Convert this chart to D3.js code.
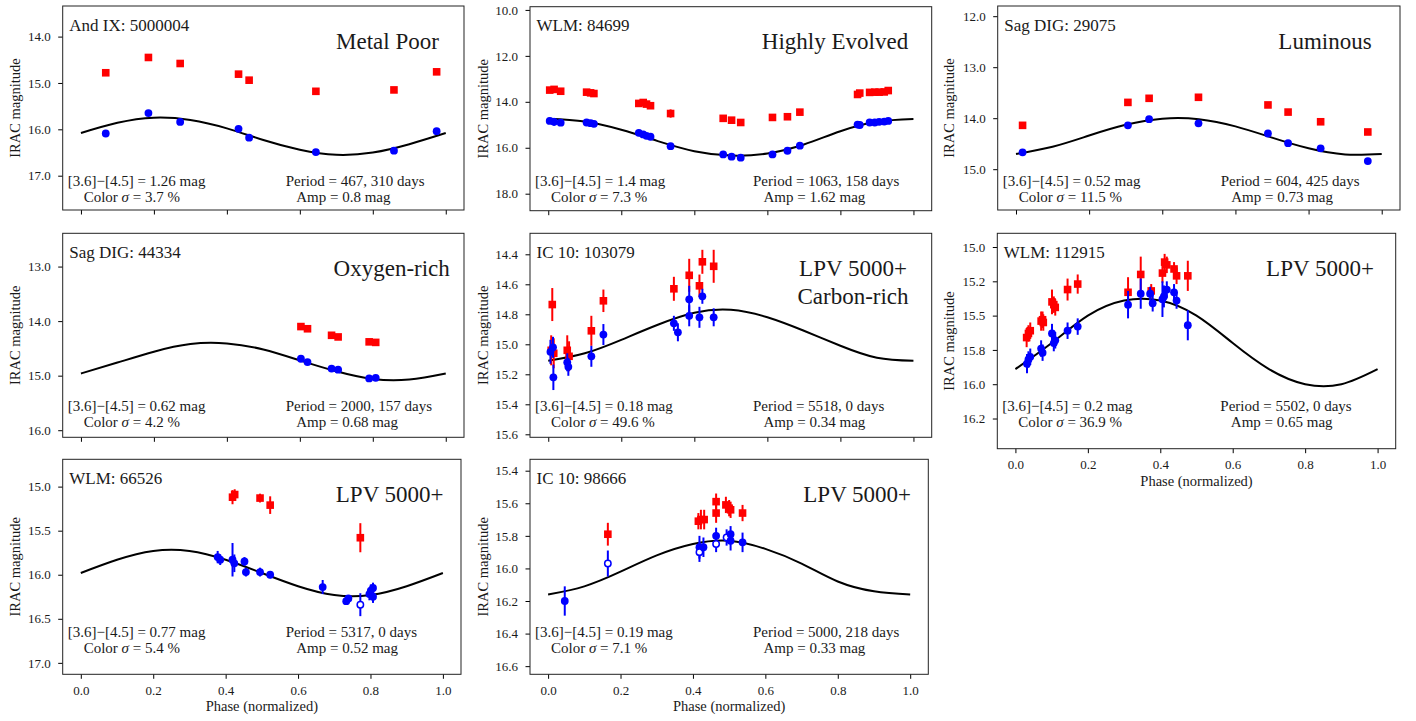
<!DOCTYPE html>
<html>
<head>
<meta charset="utf-8">
<script src="https://cdnjs.cloudflare.com/ajax/libs/d3/7.8.5/d3.min.js"></script>
<style>
    body { margin: 0; background: #fff; }
    svg text { font-family: 'Liberation Serif', 'DejaVu Serif', serif; fill: #1a1a1a; }
</style>
</head>
<body>
<svg id="figura"></svg>
<script>

var fasesCurva = [0, 0.1, 0.2, 0.3, 0.4, 0.5, 0.6, 0.7, 0.8, 0.9, 1.0];

//Eixo X comum
var ticksX = [0, 0.2, 0.4, 0.6, 0.8, 1.0];
var rotulosX = ['0.0', '0.2', '0.4', '0.6', '0.8', '1.0'];

//Textos de cada painel
var nomes = ['And IX: 5000004', 'WLM: 84699', 'Sag DIG: 29075', 'Sag DIG: 44334',
             'IC 10: 103079', 'WLM: 112915', 'WLM: 66526', 'IC 10: 98666'];
var classes = [['Metal Poor'], ['Highly Evolved'], ['Luminous'], ['Oxygen-rich'],
               ['LPV 5000+', 'Carbon-rich'], ['LPV 5000+'], ['LPV 5000+'], ['LPV 5000+']];
var cores = ['1.26', '1.4', '0.52', '0.62', '0.18', '0.2', '0.77', '0.19'];
var sigmas = ['3.7', '7.3', '11.5', '4.2', '49.6', '36.9', '5.4', '7.1'];
var periodos = ['467, 310', '1063, 158', '604, 425', '2000, 157', '5518, 0', '5502, 0', '5317, 0', '5000, 218'];
var amplitudes = ['0.8', '1.62', '0.73', '0.68', '0.34', '0.65', '0.52', '0.33'];

//Ticks do eixo Y de cada painel
var ticksY1 = [14, 15, 16, 17];
var ticksY2 = [10, 12, 14, 16, 18];
var ticksY3 = [12, 13, 14, 15];
var ticksY4 = [13, 14, 15, 16];
var ticksY5 = [14.4, 14.6, 14.8, 15.0, 15.2, 15.4, 15.6];
var ticksY6 = [15.0, 15.25, 15.5, 15.75, 16.0, 16.25];
var rotulosY6 = ['15.0', '15.2', '15.5', '15.8', '16.0', '16.2'];
var ticksY7 = [15.0, 15.5, 16.0, 16.5, 17.0];
var ticksY8 = [15.4, 15.6, 15.8, 16.0, 16.2, 16.4, 16.6];

//Painel 1 - And IX: 5000004
var fase1 = [0.068, 0.185, 0.272, 0.432, 0.461, 0.644, 0.858, 0.975];
var mag1_45 = [14.78, 14.45, 14.58, 14.81, 14.94, 15.18, 15.15, 14.76];
var mag1_36 = [16.09, 15.65, 15.84, 15.99, 16.18, 16.49, 16.46, 16.04];
var erro1 = [0.03, 0.03, 0.03, 0.03, 0.03, 0.03, 0.03, 0.03];
var curva1 = [16.08, 15.86, 15.75, 15.80, 15.98, 16.23, 16.44, 16.55, 16.50, 16.32, 16.08];

//Painel 2 - WLM: 84699
var fase2 = [0.004, 0.016, 0.034, 0.105, 0.116, 0.125, 0.248, 0.260, 0.269, 0.280, 0.335, 0.479,
             0.502, 0.527, 0.614, 0.655, 0.689, 0.847, 0.853, 0.880, 0.894, 0.906, 0.920, 0.931];
var mag2_45 = [13.49, 13.46, 13.54, 13.58, 13.61, 13.64, 14.07, 14.03, 14.10, 14.17, 14.51, 14.72,
               14.80, 14.90, 14.68, 14.65, 14.45, 13.68, 13.62, 13.59, 13.58, 13.58, 13.57, 13.51];
var erro2_45 = [0.05, 0.05, 0.05, 0.05, 0.05, 0.05, 0.05, 0.05, 0.05, 0.05, 0.18, 0.05,
                0.05, 0.05, 0.05, 0.05, 0.05, 0.08, 0.05, 0.05, 0.05, 0.05, 0.05, 0.05];
var mag2_36 = [14.83, 14.87, 14.91, 14.90, 14.93, 14.96, 15.35, 15.42, 15.48, 15.52, 15.93, 16.29,
               16.39, 16.43, 16.29, 16.13, 15.91, 14.99, 15.01, 14.90, 14.90, 14.87, 14.86, 14.83];
var erro2_36 = [0.05, 0.17, 0.05, 0.05, 0.05, 0.05, 0.05, 0.05, 0.05, 0.05, 0.08, 0.05,
                0.05, 0.05, 0.05, 0.05, 0.05, 0.05, 0.05, 0.05, 0.05, 0.05, 0.05, 0.05];
var curva2 = [14.74, 14.86, 15.22, 15.71, 16.15, 16.34, 16.25, 15.86, 15.28, 14.87, 14.75];

//Painel 3 - Sag DIG: 29075
var fase3 = [0.018, 0.306, 0.364, 0.499, 0.689, 0.744, 0.833, 0.962];
var mag3_45 = [14.14, 13.69, 13.61, 13.59, 13.74, 13.88, 14.07, 14.27];
var mag3_36 = [14.67, 14.14, 14.02, 14.10, 14.30, 14.49, 14.59, 14.84];
var erro3 = [0.02, 0.02, 0.02, 0.02, 0.02, 0.02, 0.02, 0.02];
var curva3 = [14.70, 14.56, 14.34, 14.13, 14.01, 14.02, 14.16, 14.38, 14.59, 14.71, 14.70];

//Painel 4 - Sag DIG: 44334
var fase4 = [0.603, 0.621, 0.687, 0.705, 0.790, 0.808];
var mag4_45 = [14.10, 14.14, 14.26, 14.29, 14.38, 14.39];
var mag4_36 = [14.69, 14.75, 14.87, 14.89, 15.05, 15.04];
var erro4 = [0.02, 0.02, 0.02, 0.02, 0.02, 0.02];
var curva4 = [14.96, 14.76, 14.56, 14.42, 14.41, 14.52, 14.72, 14.92, 15.06, 15.07, 14.96];

//Painel 5 - IC 10: 103079
var fase5_45 = [0.008, 0.015, 0.011, 0.052, 0.057, 0.118, 0.151, 0.344, 0.386, 0.414, 0.422, 0.453];
var mag5_45 = [15.04, 15.06, 14.735, 15.04, 15.08, 14.91, 14.71, 14.63, 14.54, 14.61, 14.45, 14.48];
var erro5_45 = [0.10, 0.10, 0.11, 0.10, 0.10, 0.10, 0.075, 0.08, 0.11, 0.075, 0.08, 0.11];
var fase5_36 = [0.006, 0.013, 0.014, 0.052, 0.055, 0.118, 0.151, 0.344, 0.355, 0.386, 0.386, 0.414, 0.422, 0.453];
var mag5_36 = [15.05, 15.02, 15.22, 15.12, 15.15, 15.08, 14.935, 14.86, 14.92, 14.70, 14.81, 14.82, 14.68, 14.82];
var erro5_36 = [0.08, 0.07, 0.085, 0.06, 0.06, 0.07, 0.07, 0.05, 0.06, 0.09, 0.07, 0.07, 0.05, 0.06];
var curva5 = [15.11, 15.06, 14.97, 14.87, 14.79, 14.77, 14.82, 14.91, 15.01, 15.09, 15.11];

//Painel 6 - WLM: 112915
var fase6_45 = [0.031, 0.036, 0.041, 0.071, 0.075, 0.077, 0.101, 0.106, 0.110, 0.144,
                0.172, 0.311, 0.346, 0.375, 0.406, 0.412, 0.418, 0.438, 0.445, 0.476];
var mag6_45 = [15.66, 15.63, 15.61, 15.54, 15.53, 15.55, 15.40, 15.42, 15.44, 15.31,
               15.27, 15.33, 15.20, 15.32, 15.19, 15.11, 15.13, 15.16, 15.21, 15.21];
var erro6_45 = [0.07, 0.06, 0.06, 0.07, 0.06, 0.06, 0.09, 0.06, 0.06, 0.08,
                0.07, 0.11, 0.13, 0.05, 0.07, 0.06, 0.06, 0.05, 0.06, 0.11];
var fase6_36 = [0.032, 0.036, 0.041, 0.071, 0.075, 0.101, 0.106, 0.110, 0.144, 0.172,
                0.311, 0.346, 0.372, 0.379, 0.406, 0.410, 0.418, 0.438, 0.445, 0.476];
var mag6_36 = [15.85, 15.82, 15.80, 15.74, 15.77, 15.63, 15.70, 15.68, 15.61, 15.58,
               15.42, 15.34, 15.34, 15.41, 15.38, 15.36, 15.31, 15.33, 15.39, 15.57];
var erro6_36 = [0.07, 0.06, 0.06, 0.06, 0.06, 0.07, 0.06, 0.06, 0.06, 0.06,
                0.10, 0.11, 0.05, 0.06, 0.13, 0.08, 0.06, 0.06, 0.06, 0.11];
var curva6 = [15.89, 15.70, 15.50, 15.39, 15.39, 15.50, 15.70, 15.89, 16.00, 16.00, 15.89];

//Painel 7 - WLM: 66526
var fase7_45 = [0.419, 0.425, 0.495, 0.523, 0.772];
var mag7_45 = [15.12, 15.09, 15.13, 15.21, 15.58];
var erro7_45 = [0.08, 0.06, 0.05, 0.10, 0.165];
var fase7_36 = [0.378, 0.385, 0.419, 0.424, 0.452, 0.456, 0.495, 0.523,
                0.668, 0.733, 0.739, 0.772, 0.797, 0.801, 0.807, 0.807];
var mag7_36 = [15.80, 15.83, 15.83, 15.87, 15.85, 15.97, 15.97, 16.00,
               16.14, 16.30, 16.27, 16.34, 16.22, 16.18, 16.15, 16.25];
var erro7_36 = [0.07, 0.06, 0.19, 0.10, 0.05, 0.05, 0.05, 0.04,
                0.08, 0.04, 0.04, 0.13, 0.07, 0.07, 0.06, 0.07];
var vazio7_36 = [0, 0, 0, 0, 0, 0, 0, 0, 0, 0, 0, 1, 0, 0, 0, 0];
var curva7 = [15.98, 15.83, 15.73, 15.73, 15.83, 15.98, 16.13, 16.23, 16.23, 16.13, 15.98];

//Painel 8 - IC 10: 98666
var fase8_45 = [0.165, 0.415, 0.422, 0.431, 0.464, 0.464, 0.491, 0.500, 0.504, 0.537];
var mag8_45 = [15.79, 15.71, 15.70, 15.70, 15.59, 15.66, 15.61, 15.63, 15.64, 15.66];
var erro8_45 = [0.07, 0.05, 0.06, 0.06, 0.05, 0.06, 0.05, 0.05, 0.05, 0.05];
var fase8_36 = [0.046, 0.165, 0.418, 0.418, 0.429, 0.464, 0.464, 0.493, 0.504, 0.504, 0.537];
var mag8_36 = [16.20, 15.97, 15.87, 15.90, 15.87, 15.80, 15.85, 15.81, 15.79, 15.83, 15.84];
var erro8_36 = [0.09, 0.08, 0.07, 0.06, 0.06, 0.05, 0.05, 0.05, 0.05, 0.06, 0.06];
var vazio8_36 = [0, 1, 0, 1, 0, 0, 1, 1, 0, 0, 0];
var curva8 = [16.16, 16.11, 16.02, 15.92, 15.85, 15.83, 15.88, 15.97, 16.08, 16.14, 16.16];

//---------------------------
//Montagem das séries de pontos a partir dos vetores
//---------------------------
function serie(fases, mags, erros, vazios) {
    return fases.map((f, i) => ({
        fase: f,
        mag: mags[i],
        erro: erros[i],
        vazio: vazios ? vazios[i] === 1 : false
    }));
}

function PainelDeFase(parametros) {

    var svg = d3.select('#figura');
    var c = parametros.caixa;
    var largura = c.direita - c.esquerda;
    var altura = c.inferior - c.superior;

    var plotagem = svg.append('g')
                      .attr('transform', 'translate(' + c.esquerda + ',' + c.superior + ')');

    //Escalas (magnitude invertida: menor valor em cima)
    var x = d3.scaleLinear().domain([-0.05, 1.05]).range([0, largura]);
    var y = d3.scaleLinear().domain(parametros.dominioY).range([0, altura]);

    //Eixos
    var rotulosY = parametros.rotulosY || parametros.ticksY.map(d3.format('.1f'));
    var eixoY = d3.axisLeft(y)
                  .tickValues(parametros.ticksY)
                  .tickFormat(d => rotulosY[parametros.ticksY.indexOf(d)])
                  .tickSize(4.5)
                  .tickPadding(7.5);
    plotagem.append('g')
            .call(eixoY)
            .attr('font-family', null)
            .attr('font-size', 13)
            .call(g => g.select('.domain').remove());

    var eixoX = d3.axisBottom(x)
                  .tickValues(ticksX)
                  .tickFormat(d => parametros.rotulosX ? rotulosX[ticksX.indexOf(d)] : '')
                  .tickSize(4.5)
                  .tickPadding(7);
    plotagem.append('g')
            .attr('transform', 'translate(0,' + altura + ')')
            .call(eixoX)
            .attr('font-family', null)
            .attr('font-size', 13)
            .call(g => g.select('.domain').remove());

    //Moldura
    plotagem.append('rect')
            .attr('width', largura)
            .attr('height', altura)
            .attr('fill', 'none')
            .attr('stroke', '#222')
            .attr('stroke-width', 1);

    //Títulos dos eixos
    svg.append('text')
       .attr('transform', 'translate(' + parametros.tituloYX + ',' + (c.superior + altura / 2) + ') rotate(-90)')
       .attr('text-anchor', 'middle')
       .attr('dy', '0.35em')
       .style('font-size', '14.5px')
       .text('IRAC magnitude');

    if (parametros.rotulosX) {
        svg.append('text')
           .attr('x', c.esquerda + largura / 2)
           .attr('y', parametros.tituloXY)
           .attr('text-anchor', 'middle')
           .style('font-size', '14.5px')
           .text('Phase (normalized)');
    }

    //Curva ajustada
    var linha = d3.line()
                  .x((d, i) => x(fasesCurva[i]))
                  .y(d => y(d))
                  .curve(d3.curveNatural);
    plotagem.append('path')
            .datum(parametros.curva)
            .attr('d', linha)
            .attr('fill', 'none')
            .attr('stroke', 'black')
            .attr('stroke-width', 2);

    //Barras de erro
    function barras(dados, cor) {
        plotagem.selectAll(null)
                .data(dados)
                .enter()
                .append('line')
                .attr('x1', d => x(d.fase))
                .attr('x2', d => x(d.fase))
                .attr('y1', d => y(d.mag - d.erro))
                .attr('y2', d => y(d.mag + d.erro))
                .attr('stroke', cor)
                .attr('stroke-width', 2);
    }

    //[4.5] em quadrados vermelhos
    barras(parametros.vermelho, 'red');
    plotagem.selectAll(null)
            .data(parametros.vermelho)
            .enter()
            .append('rect')
            .attr('x', d => x(d.fase) - 3.8)
            .attr('y', d => y(d.mag) - 3.8)
            .attr('width', 7.6)
            .attr('height', 7.6)
            .attr('fill', 'red');

    //[3.6] em círculos azuis
    barras(parametros.azul, 'blue');
    plotagem.selectAll(null)
            .data(parametros.azul)
            .enter()
            .append('circle')
            .attr('cx', d => x(d.fase))
            .attr('cy', d => y(d.mag))
            .attr('r', d => d.vazio ? 3.2 : 3.9)
            .attr('fill', d => d.vazio ? 'white' : 'blue')
            .attr('stroke', 'blue')
            .attr('stroke-width', d => d.vazio ? 1.5 : 0);

    //Textos internos
    var k = parametros.indice;
    plotagem.append('text')
            .attr('x', 6.5)
            .attr('y', 24.5)
            .style('font-size', '17px')
            .text(nomes[k]);

    classes[k].forEach(function(t, i) {
        svg.append('text')
           .attr('x', parametros.tituloX)
           .attr('y', c.superior + 42.5 + i * 28)
           .attr('text-anchor', 'middle')
           .style('font-size', '23px')
           .text(t);
    });

    var esquerda1 = svg.append('text')
                       .attr('x', c.esquerda + 5)
                       .attr('y', parametros.textoY[0])
                       .style('font-size', '15px');
    esquerda1.text('[3.6]\u2212[4.5] = ' + cores[k] + ' mag');

    var esquerda2 = svg.append('text')
                       .attr('x', c.esquerda + 21)
                       .attr('y', parametros.textoY[1])
                       .style('font-size', '15px');
    esquerda2.append('tspan').text('Color ');
    esquerda2.append('tspan').style('font-style', 'italic').text('\u03c3');
    esquerda2.append('tspan').text(' = ' + sigmas[k] + ' %');

    svg.append('text')
       .attr('x', c.esquerda + 223)
       .attr('y', parametros.textoY[0])
       .style('font-size', '15px')
       .text('Period = ' + periodos[k] + ' days');

    svg.append('text')
       .attr('x', c.esquerda + 233.5)
       .attr('y', parametros.textoY[1])
       .style('font-size', '15px')
       .text('Amp = ' + amplitudes[k] + ' mag');
}

d3.select('#figura')
  .attr('width', 1416)
  .attr('height', 721);

new PainelDeFase({
    indice: 0,
    caixa: {esquerda: 62.7, superior: 6, direita: 464, inferior: 210},
    dominioY: [13.34, 17.74], ticksY: ticksY1,
    curva: curva1,
    vermelho: serie(fase1, mag1_45, erro1),
    azul: serie(fase1, mag1_36, erro1),
    tituloYX: 15, tituloX: 387.5, textoY: [185.7, 201.7], rotulosX: false
});

new PainelDeFase({
    indice: 1,
    caixa: {esquerda: 530, superior: 6.7, direita: 931.7, inferior: 210.7},
    dominioY: [9.86, 18.74], ticksY: ticksY2,
    curva: curva2,
    vermelho: serie(fase2, mag2_45, erro2_45),
    azul: serie(fase2, mag2_36, erro2_36),
    tituloYX: 483.3, tituloX: 835, textoY: [185.7, 201.7], rotulosX: false
});

new PainelDeFase({
    indice: 2,
    caixa: {esquerda: 997.7, superior: 6, direita: 1400, inferior: 210},
    dominioY: [11.80, 15.80], ticksY: ticksY3,
    curva: curva3,
    vermelho: serie(fase3, mag3_45, erro3),
    azul: serie(fase3, mag3_36, erro3),
    tituloYX: 949.3, tituloX: 1325, textoY: [185.7, 201.7], rotulosX: false
});

new PainelDeFase({
    indice: 3,
    caixa: {esquerda: 62.7, superior: 233.3, direita: 464, inferior: 437.3},
    dominioY: [12.39, 16.13], ticksY: ticksY4,
    curva: curva4,
    vermelho: serie(fase4, mag4_45, erro4),
    azul: serie(fase4, mag4_36, erro4),
    tituloYX: 15, tituloX: 391.7, textoY: [410.7, 426.7], rotulosX: false
});

new PainelDeFase({
    indice: 4,
    caixa: {esquerda: 530, superior: 233.3, direita: 931.7, inferior: 437.3},
    dominioY: [14.26, 15.62], ticksY: ticksY5,
    curva: curva5,
    vermelho: serie(fase5_45, mag5_45, erro5_45),
    azul: serie(fase5_36, mag5_36, erro5_36),
    tituloYX: 483.3, tituloX: 853, textoY: [410.7, 426.7], rotulosX: false
});

new PainelDeFase({
    indice: 5,
    caixa: {esquerda: 997.3, superior: 233.3, direita: 1395.7, inferior: 448.7},
    dominioY: [14.90, 16.47], ticksY: ticksY6, rotulosY: rotulosY6,
    curva: curva6,
    vermelho: serie(fase6_45, mag6_45, erro6_45),
    azul: serie(fase6_36, mag6_36, erro6_36),
    tituloYX: 949.3, tituloX: 1320, textoY: [410.7, 427], rotulosX: true, tituloXY: 486
});

new PainelDeFase({
    indice: 6,
    caixa: {esquerda: 62.7, superior: 459.3, direita: 461, inferior: 674.3},
    dominioY: [14.69, 17.13], ticksY: ticksY7,
    curva: curva7,
    vermelho: serie(fase7_45, mag7_45, erro7_45),
    azul: serie(fase7_36, mag7_36, erro7_36, vazio7_36),
    tituloYX: 15, tituloX: 389.7, textoY: [636.5, 653], rotulosX: true, tituloXY: 711
});

new PainelDeFase({
    indice: 7,
    caixa: {esquerda: 530, superior: 459.3, direita: 928.3, inferior: 674.3},
    dominioY: [15.33, 16.65], ticksY: ticksY8,
    curva: curva8,
    vermelho: serie(fase8_45, mag8_45, erro8_45),
    azul: serie(fase8_36, mag8_36, erro8_36, vazio8_36),
    tituloYX: 483.3, tituloX: 857.2, textoY: [636.5, 653], rotulosX: true, tituloXY: 711
});

</script>
</body>
</html>
